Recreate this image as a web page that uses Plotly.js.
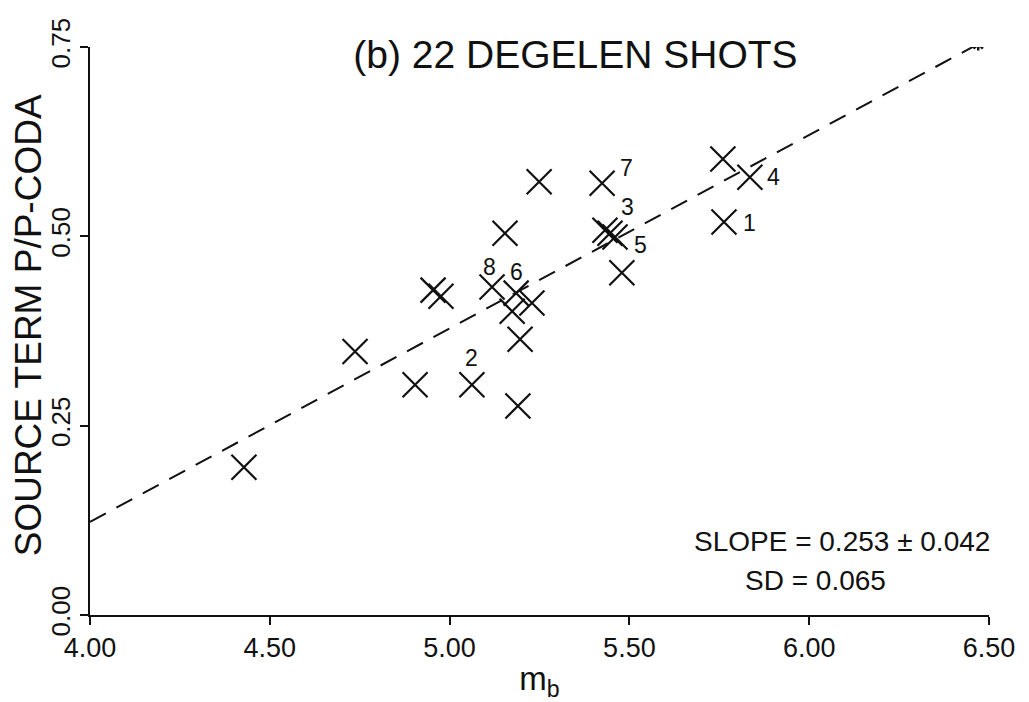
<!DOCTYPE html>
<html>
<head>
<meta charset="utf-8">
<script src="https://cdn.plot.ly/plotly-3.0.1.min.js"></script>
<style>html,body{margin:0;padding:0;background:#fff;}#chart{width:1029px;height:702px;}</style>
</head>
<body>
<div id="chart"></div>
<script>
// Observed shots: body-wave magnitude and source term
const mb = [4.428, 4.737, 4.904, 4.954, 4.976, 5.062, 5.118, 5.154, 5.185, 5.174, 5.229,
            5.196, 5.190, 5.249, 5.424, 5.432, 5.446, 5.460, 5.479, 5.760, 5.763, 5.835];
const sourceTerm = [0.195, 0.348, 0.304, 0.429, 0.421, 0.304, 0.433, 0.504, 0.425, 0.401, 0.412,
                    0.364, 0.276, 0.572, 0.570, 0.508, 0.504, 0.499, 0.452, 0.602, 0.519, 0.578];
// Regression line end points
const fitX = [4.0, 6.47];
const fitY = [0.123, 0.754];
// Numbered shot labels
const labelText = ['1', '2', '3', '4', '5', '6', '7', '8'];
const labelX = [5.833, 5.062, 5.496, 5.900, 5.530, 5.187, 5.492, 5.112];
const labelY = [0.518, 0.339, 0.539, 0.579, 0.489, 0.453, 0.590, 0.460];
// Axis ticks
const xTicks = [4.00, 4.50, 5.00, 5.50, 6.00, 6.50];
const xTickText = ['4.00', '4.50', '5.00', '5.50', '6.00', '6.50'];
const yTicks = [0.00, 0.25, 0.50, 0.75];
const yTickText = ['0.00', '0.25', '0.50', '0.75'];

const FONT = 'Liberation Sans, Arial, Helvetica, sans-serif';

const traces = [
  {
    x: fitX, y: fitY, type: 'scatter', mode: 'lines',
    line: {color: '#111', width: 2, dash: '18px,12px'},
    hoverinfo: 'skip', showlegend: false
  },
  {
    x: [fitX[1]], y: [fitY[1]], type: 'scatter', mode: 'markers',
    marker: {symbol: 'asterisk-open', size: 11, color: '#111', line: {color: '#111', width: 2.5}},
    hoverinfo: 'skip', showlegend: false
  },
  {
    x: mb, y: sourceTerm, type: 'scatter', mode: 'markers',
    marker: {symbol: 'x-thin-open', size: 25, color: '#111', line: {color: '#111', width: 2.2}},
    showlegend: false
  }
];

const annotations = labelText.map((t, i) => ({
  x: labelX[i], y: labelY[i], xref: 'x', yref: 'y', text: t, showarrow: false,
  font: {family: FONT, size: 23, color: '#111'}, xanchor: 'center', yanchor: 'middle'
}));
annotations.push({
  x: 1.003, y: 0.13, xref: 'paper', yref: 'paper', text: 'SLOPE = 0.253 ± 0.042',
  showarrow: false, xanchor: 'right', yanchor: 'middle',
  font: {family: FONT, size: 28, color: '#111'}
});
annotations.push({
  x: 0.888, y: 0.06, xref: 'paper', yref: 'paper', text: 'SD = 0.065',
  showarrow: false, xanchor: 'right', yanchor: 'middle',
  font: {family: FONT, size: 28, color: '#111'}
});
annotations.push({
  x: -0.069, y: 0.51, xref: 'paper', yref: 'paper', text: 'SOURCE TERM P/P-CODA',
  showarrow: false, xanchor: 'center', yanchor: 'middle', textangle: -90,
  font: {family: FONT, size: 37, color: '#111'}
});

const layout = {
  width: 1029, height: 702,
  margin: {l: 90, r: 40, t: 47, b: 87},
  paper_bgcolor: '#fff', plot_bgcolor: '#fff',
  font: {family: FONT, color: '#111'},
  title: {
    text: '(b) 22 DEGELEN SHOTS',
    font: {family: FONT, size: 39, color: '#111'},
    x: 0.54, xref: 'paper', xanchor: 'center',
    y: 0.922, yref: 'container', yanchor: 'middle'
  },
  xaxis: {
    range: [4.0, 6.5], tickvals: xTicks, ticktext: xTickText,
    showgrid: false, zeroline: false, showline: true, linecolor: '#111', linewidth: 2,
    ticks: 'outside', ticklen: 8, tickwidth: 2, tickcolor: '#111',
    tickfont: {family: FONT, size: 27, color: '#111'},
    title: {text: 'm<sub>b</sub>', font: {family: FONT, size: 33, color: '#111'}, standoff: 6}
  },
  yaxis: {
    range: [0, 0.75], tickvals: yTicks, ticktext: yTickText,
    showgrid: false, zeroline: false, showline: true, linecolor: '#111', linewidth: 2,
    ticks: 'outside', ticklen: 8, tickwidth: 2, tickcolor: '#111', tickangle: -90,
    tickfont: {family: FONT, size: 26, color: '#111'}
  },
  annotations: annotations,
  showlegend: false
};

Plotly.newPlot('chart', traces, layout, {displayModeBar: false, staticPlot: true});
</script>
</body>
</html>
